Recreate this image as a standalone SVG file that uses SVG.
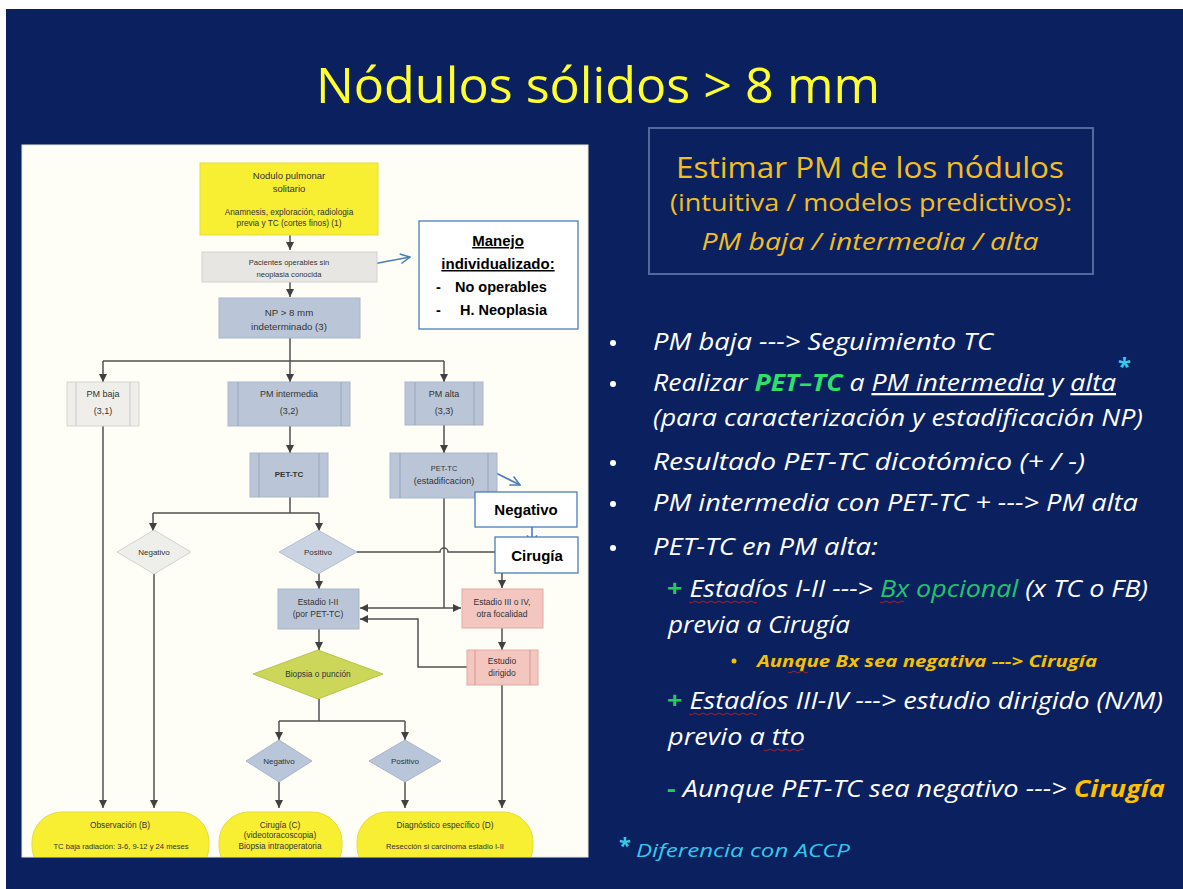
<svg xmlns="http://www.w3.org/2000/svg" width="1183" height="889" viewBox="0 0 1183 889">
<defs>
<style>
.fc{font-family:"Liberation Sans",Arial,sans-serif;fill:#333333;text-anchor:middle}
.ln{fill:none;stroke:#505050;stroke-width:1.5}
.bl{fill:none;stroke:#4A7EBB;stroke-width:1.6}
.wt{font-family:"Open Sans",sans-serif;font-style:italic;fill:#FFFFFF;font-size:23px}
.bx{fill:#BAC6D8;stroke:#AAB6C9;stroke-width:1}
.bar{stroke:#98A6BC;stroke-width:1}
.pk{fill:#F3C6C0;stroke:#E3ABA3;stroke-width:1}
.ye{fill:#F8EE32;stroke:#E6DA40;stroke-width:1}
.nb{font-family:"Liberation Sans",Arial,sans-serif;font-weight:bold;fill:#000;text-anchor:middle}
.ns{font-family:"Liberation Sans",Arial,sans-serif;font-weight:bold;fill:#000;text-anchor:start}
</style>
<marker id="ah" viewBox="0 0 10 10" refX="10" refY="5" markerWidth="8" markerHeight="8" markerUnits="userSpaceOnUse" orient="auto"><path d="M0,0 L10,5 L0,10 z" fill="#404040"/></marker>
<marker id="ab" viewBox="0 0 10 10" refX="9" refY="5" markerWidth="12" markerHeight="12" markerUnits="userSpaceOnUse" orient="auto"><path d="M1,1 L9,5 L1,9" fill="none" stroke="#4A7EBB" stroke-width="1.3"/></marker>
<clipPath id="panel"><rect x="22" y="145" width="566" height="712"/></clipPath>
</defs>
<rect width="1183" height="889" fill="#FFFFFF"/>
<rect x="6" y="9" width="1177" height="880" fill="#0B215F"/>

<text x="598" y="103" font-family="Open Sans, sans-serif" font-size="50" fill="#FFFF2E" text-anchor="middle" textLength="564" lengthAdjust="spacingAndGlyphs">Nódulos sólidos &gt; 8 mm</text>

<!-- panel -->
<rect x="22" y="145" width="566" height="712" fill="#FEFEF6" stroke="#E8E8E0"/>

<g id="connectors">
<path class="ln" d="M290,235 V250" marker-end="url(#ah)"/>
<path class="ln" d="M290,282 V297" marker-end="url(#ah)"/>
<path class="ln" d="M290,338 V382" marker-end="url(#ah)"/>
<path class="ln" d="M103,361 H444"/>
<path class="ln" d="M103,361 V382" marker-end="url(#ah)"/>
<path class="ln" d="M444,361 V382" marker-end="url(#ah)"/>
<path class="ln" d="M290,426 V453" marker-end="url(#ah)"/>
<path class="ln" d="M444,425 V453" marker-end="url(#ah)"/>
<path class="ln" d="M290,497 V513"/>
<path class="ln" d="M153,513 H319"/>
<path class="ln" d="M153,513 V531" marker-end="url(#ah)"/>
<path class="ln" d="M319,513 V531" marker-end="url(#ah)"/>
<path class="ln" d="M103,426 V808" marker-end="url(#ah)"/>
<path class="ln" d="M154,574 V808" marker-end="url(#ah)"/>
<path class="ln" d="M357,552 H440 a4,4 0 0 1 8,0 H502 V588" marker-end="url(#ah)"/>
<path class="ln" d="M444,498 V608"/>
<path class="ln" d="M444,608 H360" marker-end="url(#ah)"/>
<path class="ln" d="M444,608 H461" marker-end="url(#ah)"/>
<path class="ln" d="M319,573 V589" marker-end="url(#ah)"/>
<path class="ln" d="M502,628 V650" marker-end="url(#ah)"/>
<path class="ln" d="M467,667 H418 V619 H360" marker-end="url(#ah)"/>
<path class="ln" d="M502,685 V808" marker-end="url(#ah)"/>
<path class="ln" d="M319,629 V650" marker-end="url(#ah)"/>
<path class="ln" d="M319,699 V721"/>
<path class="ln" d="M279,721 H405"/>
<path class="ln" d="M279,721 V740" marker-end="url(#ah)"/>
<path class="ln" d="M405,721 V740" marker-end="url(#ah)"/>
<path class="ln" d="M279,782 V808" marker-end="url(#ah)"/>
<path class="ln" d="M405,782 V808" marker-end="url(#ah)"/>
<path class="bl" d="M373,264 L410,257" marker-end="url(#ab)"/>
<path class="bl" d="M494,472 L520,485" marker-end="url(#ab)"/>
<path class="bl" d="M532,527 V545" marker-end="url(#ab)"/>
</g>

<g id="n-nodulo">
<rect x="200" y="163" width="178" height="72" class="ye"/>
<text class="fc" font-size="9.5"><tspan x="289" y="179">Nodulo pulmonar</tspan><tspan x="289" y="192">solitario</tspan></text>
<text class="fc" font-size="8.3"><tspan x="289" y="215">Anamnesis, exploración, radiologia</tspan><tspan x="289" y="226">previa y TC (cortes finos) (1)</tspan></text>
</g>
<g id="n-pacientes">
<rect x="202" y="252" width="175" height="30" fill="#E7E6E3" stroke="#D2D2D0"/>
<text class="fc" font-size="7.6"><tspan x="289" y="265">Pacientes operables sin</tspan><tspan x="289" y="277">neoplasia conocida</tspan></text>
</g>
<g id="n-np">
<rect x="219" y="298" width="141" height="40" class="bx"/>
<text class="fc" font-size="9.7"><tspan x="289" y="316">NP &gt; 8 mm</tspan><tspan x="289" y="330">indeterminado (3)</tspan></text>
</g>
<g id="n-manejo">
<rect x="419" y="221" width="159" height="108" fill="#FFFFFF" stroke="#4A7EBB" stroke-width="1.3"/>
<text class="nb" font-size="15" text-decoration="underline"><tspan x="498" y="246">Manejo</tspan><tspan x="498" y="269">individualizado:</tspan></text>
<text class="ns" font-size="14.5"><tspan x="436" y="292">-</tspan><tspan x="455" y="292">No operables</tspan><tspan x="436" y="315">-</tspan><tspan x="460" y="315">H. Neoplasia</tspan></text>
</g>
<g id="n-pmbaja">
<rect x="67" y="382" width="72" height="44" fill="#EFEEEA" stroke="#D5D5D0"/>
<path d="M76,382 V426 M130,382 V426" stroke="#C8C8C4"/>
<text class="fc" font-size="9"><tspan x="103" y="397">PM baja</tspan><tspan x="103" y="414">(3,1)</tspan></text>
</g>
<g id="n-pminter">
<rect x="228" y="382" width="122" height="44" class="bx" fill="#C6D0DF"/>
<path class="bar" d="M238,382 V426 M341,382 V426"/>
<text class="fc" font-size="9"><tspan x="289" y="397">PM intermedia</tspan><tspan x="289" y="414">(3,2)</tspan></text>
</g>
<g id="n-pmalta">
<rect x="405" y="382" width="78" height="43" class="bx"/>
<path class="bar" d="M415,382 V425 M474,382 V425"/>
<text class="fc" font-size="9"><tspan x="444" y="397">PM alta</tspan><tspan x="444" y="414">(3,3)</tspan></text>
</g>
<g id="n-pettc">
<rect x="250" y="453" width="78" height="44" class="bx"/>
<path class="bar" d="M259,453 V497 M319,453 V497"/>
<text class="fc" font-size="8" font-weight="bold" x="289" y="477">PET-TC</text>
</g>
<g id="n-pettc-est">
<rect x="390" y="453" width="107" height="45" class="bx"/>
<path class="bar" d="M400,453 V498 M488,453 V498"/>
<text class="fc" font-size="7.5"><tspan x="444" y="471">PET-TC</tspan></text>
<text class="fc" font-size="9"><tspan x="444" y="484">(estadificacion)</tspan></text>
</g>
<g id="n-negativo-box">
<rect x="475" y="492" width="102" height="35" fill="#FFFFFF" stroke="#4A7EBB" stroke-width="1.3"/>
<text class="nb" font-size="15" x="526" y="515">Negativo</text>
</g>
<g id="n-cirugia-box">
<rect x="495" y="537" width="83" height="36" fill="#FFFFFF" stroke="#4A7EBB" stroke-width="1.3"/>
<text class="nb" font-size="15" x="537" y="561">Cirugía</text>
</g>
<g id="n-neg1">
<path d="M154,530 L191,552 L154,574 L117,552 Z" fill="#EEEEEA" stroke="#D3D3D0"/>
<text class="fc" font-size="8" x="154" y="555">Negativo</text>
</g>
<g id="n-pos1">
<path d="M318,530 L357,552 L318,574 L279,552 Z" fill="#C9D3E1" stroke="#B4C0D2"/>
<text class="fc" font-size="8" x="318" y="555">Positivo</text>
</g>
<g id="n-est12">
<rect x="278" y="589" width="81" height="40" class="bx"/>
<text class="fc" font-size="8.5"><tspan x="318" y="605">Estadio I-II</tspan><tspan x="318" y="617">(por PET-TC)</tspan></text>
</g>
<g id="n-est34">
<rect x="462" y="589" width="81" height="39" class="pk"/>
<text class="fc" font-size="8.5"><tspan x="502" y="605">Estadio III o IV,</tspan><tspan x="502" y="617">otra focalidad</tspan></text>
</g>
<g id="n-estudio">
<rect x="467" y="650" width="71" height="35" class="pk"/>
<path d="M475,650 V685 M530,650 V685" stroke="#D49A92"/>
<text class="fc" font-size="8.5"><tspan x="502" y="664">Estudio</tspan><tspan x="502" y="676">dirigido</tspan></text>
</g>
<g id="n-biopsia">
<path d="M318,650 L383,674 L318,699 L253,674 Z" fill="#CCD75A" stroke="#B8C34A"/>
<text class="fc" font-size="8.3" x="318" y="677">Biopsia o punción</text>
</g>
<g id="n-neg2">
<path d="M279,740 L312,761 L279,782 L246,761 Z" fill="#B9C5D8" stroke="#A8B5C9"/>
<text class="fc" font-size="8" x="279" y="764">Negativo</text>
</g>
<g id="n-pos2">
<path d="M405,740 L441,761 L405,782 L369,761 Z" fill="#B9C5D8" stroke="#A8B5C9"/>
<text class="fc" font-size="8" x="405" y="764">Positivo</text>
</g>
<g id="n-observacion" clip-path="url(#panel)">
<rect x="32" y="812" width="177" height="64" rx="30" class="ye"/>
<text class="fc" font-size="8.3"><tspan x="120" y="828">Observación (B)</tspan></text>
<text class="fc" font-size="7.6"><tspan x="121" y="849">TC baja radiación: 3-6, 9-12 y 24 meses</tspan></text>
</g>
<g id="n-cirugia" clip-path="url(#panel)">
<rect x="219" y="812" width="123" height="64" rx="30" class="ye"/>
<text class="fc" font-size="8.3"><tspan x="280" y="828">Cirugía (C)</tspan><tspan x="280" y="838">(videotoracoscopia)</tspan><tspan x="280" y="849">Biopsia intraoperatoria</tspan></text>
</g>
<g id="n-diagnostico" clip-path="url(#panel)">
<rect x="357" y="812" width="176" height="64" rx="30" class="ye"/>
<text class="fc" font-size="8.3"><tspan x="445" y="828">Diagnóstico específico (D)</tspan></text>
<text class="fc" font-size="7.6"><tspan x="445" y="849">Resección si carcinoma estadio I-II</tspan></text>
</g>

<!-- right side -->
<g id="n-estimar">
<rect x="649" y="128" width="444" height="146" fill="#0B215F" stroke="#4F6A9C" stroke-width="2"/>
<text x="870" y="178" font-family="Open Sans, sans-serif" font-size="30" fill="#F2BE22" text-anchor="middle" textLength="388" lengthAdjust="spacingAndGlyphs">Estimar PM de los nódulos</text>
<text x="871" y="211" font-family="Open Sans, sans-serif" font-size="23" fill="#F2BE22" text-anchor="middle" textLength="402" lengthAdjust="spacingAndGlyphs">(intuitiva / modelos predictivos):</text>
<text x="870" y="250" font-family="Open Sans, sans-serif" font-style="italic" font-size="23" fill="#F2BE22" text-anchor="middle" textLength="337" lengthAdjust="spacingAndGlyphs">PM baja / intermedia / alta</text>
</g>

<g id="bullets">
<g fill="#FFFFFF"><circle cx="613" cy="343" r="3"/><circle cx="613" cy="384" r="3"/><circle cx="613" cy="463" r="3"/><circle cx="613" cy="504" r="3"/><circle cx="613" cy="548" r="3"/></g>
<text class="wt" x="653" y="350" textLength="340" lengthAdjust="spacingAndGlyphs">PM baja ---&gt; Seguimiento TC</text>
<text class="wt" x="653" y="391" textLength="463" lengthAdjust="spacingAndGlyphs">Realizar <tspan font-weight="bold" fill="#2EE06A">PET–TC</tspan> a <tspan text-decoration="underline">PM intermedia</tspan> y <tspan text-decoration="underline">alta</tspan></text>
<text x="1118" y="375" font-family="Open Sans, sans-serif" font-weight="bold" font-size="24" fill="#35C8EC">*</text>
<text class="wt" x="653" y="426" textLength="490" lengthAdjust="spacingAndGlyphs">(para caracterización  y estadificación  NP)</text>
<text class="wt" x="653" y="470" textLength="432" lengthAdjust="spacingAndGlyphs">Resultado  PET-TC dicotómico (+ / -)</text>
<text class="wt" x="653" y="511" textLength="485" lengthAdjust="spacingAndGlyphs">PM intermedia  con PET-TC + ---&gt; PM alta</text>
<text class="wt" x="653" y="555" textLength="225" lengthAdjust="spacingAndGlyphs">PET-TC en PM alta:</text>
<text class="wt" x="667" y="597" textLength="481" lengthAdjust="spacingAndGlyphs"><tspan font-weight="bold" font-style="normal" fill="#22CC55">+</tspan> Estadíos I-II ---&gt; <tspan fill="#22C46A">Bx opcional</tspan>  (x TC o FB)</text>
<text class="wt" x="668" y="633" textLength="182" lengthAdjust="spacingAndGlyphs">previa  a Cirugía</text>
<circle cx="734" cy="661" r="2.5" fill="#F5C000"/>
<text x="757" y="667" font-family="Open Sans, sans-serif" font-style="italic" font-weight="bold" font-size="16" fill="#F5C000" textLength="340" lengthAdjust="spacingAndGlyphs">Aunque Bx sea negativa ---&gt; Cirugía</text>
<text class="wt" x="667" y="709" textLength="496" lengthAdjust="spacingAndGlyphs"><tspan font-weight="bold" font-style="normal" fill="#22CC55">+</tspan> Estadíos III-IV ---&gt; estudio  dirigido (N/M)</text>
<text class="wt" x="668" y="745" textLength="137" lengthAdjust="spacingAndGlyphs">previo a tto</text>
<text class="wt" x="667" y="797" textLength="498" lengthAdjust="spacingAndGlyphs"><tspan font-weight="bold" font-style="normal" fill="#22CC55">-</tspan> Aunque  PET-TC sea negativo ---&gt; <tspan font-weight="bold" fill="#FFC000">Cirugía</tspan></text>
<g fill="none" stroke="#D02020" stroke-width="0.8">
<path d="M689,602 q2,2 4,0 t4,0 t4,0 t4,0 t4,0 t4,0 t4,0 t4,0 t4,0 t4,0 t4,0 t4,0 t4,0 t4,0 t4,0 t4,0 t4,0"/>
<path d="M880,602 q2,2 4,0 t4,0 t4,0 t4,0 t4,0 t4,0"/>
<path d="M788,672 q2,2 4,0 t4,0 t4,0 t4,0 t4,0"/>
<path d="M689,714 q2,2 4,0 t4,0 t4,0 t4,0 t4,0 t4,0 t4,0 t4,0 t4,0 t4,0 t4,0 t4,0 t4,0 t4,0 t4,0 t4,0 t4,0"/>
<path d="M764,750 q2,2 4,0 t4,0 t4,0 t4,0 t4,0 t4,0 t4,0 t4,0 t4,0 t4,0"/>
</g>
<text x="619" y="853" font-family="Open Sans, sans-serif" font-weight="bold" font-size="22" fill="#35C8EC">*</text>
<text x="636" y="857" font-family="Open Sans, sans-serif" font-style="italic" font-size="19" fill="#35C8EC" textLength="214" lengthAdjust="spacingAndGlyphs">Diferencia con ACCP</text>
</g>
</svg>
